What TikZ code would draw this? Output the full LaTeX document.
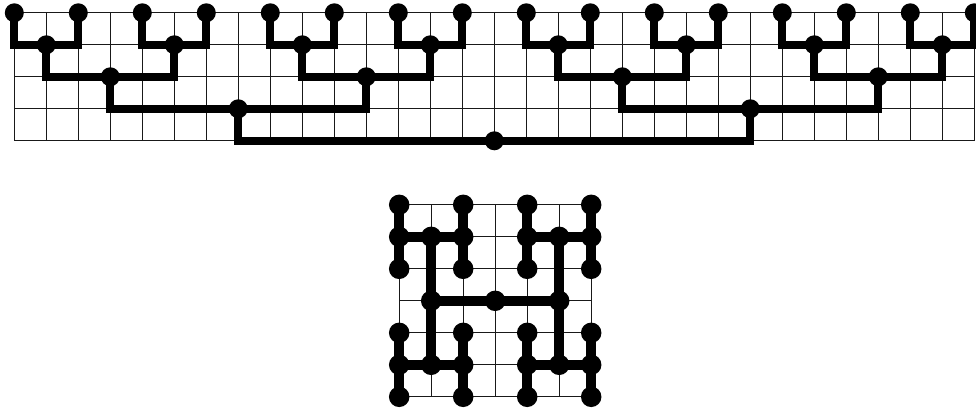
\documentclass[tikz,border=0pt]{standalone}
\begin{document}
\begin{tikzpicture}[x=1pt,y=-1pt,
  gridline/.style={draw=black!90,line width=1pt},
  tline/.style={draw=black,line width=8pt,line join=miter},
  hline/.style={draw=black,line width=9.5pt},
  tdot/.style={circle,fill=black,inner sep=0pt,minimum size=19pt},
  hdot/.style={circle,fill=black,inner sep=0pt,minimum size=20.5pt}]
\useasboundingbox (0,0) rectangle (976,408);
\def\tx{14.3}\def\ty{12.8}
\def\hx{399.2}\def\hy{204.8}
% top grid
\foreach \k in {0,...,30}{\draw[gridline] ({\tx+32*\k},\ty) -- ({\tx+32*\k},{\ty+128});}
\foreach \j in {0,...,4}{\draw[gridline] (\tx,{\ty+32*\j}) -- ({\tx+960},{\ty+32*\j});}
% bottom grid
\foreach \k in {0,...,6}{\draw[gridline] ({\hx+32*\k},\hy) -- ({\hx+32*\k},{\hy+192});}
\foreach \j in {0,...,6}{\draw[gridline] (\hx,{\hy+32*\j}) -- ({\hx+192},{\hy+32*\j});}
% top tree nodes
\foreach \L/\n in {0/16,1/8,2/4,3/2,4/1}{
  \pgfmathtruncatemacro{\last}{\n-1}
  \foreach \i in {0,...,\last}{
    \pgfmathtruncatemacro{\col}{2^(\L+1)*\i+2^\L-1}
    \node[tdot] (t-\L-\i) at ({\tx+\col*32},{\ty+\L*32}) {};
  }
}
% top tree edges
\foreach \L in {1,...,4}{
  \pgfmathtruncatemacro{\n}{16/2^\L-1}
  \pgfmathtruncatemacro{\P}{\L-1}
  \foreach \i in {0,...,\n}{
    \pgfmathtruncatemacro{\a}{2*\i}
    \pgfmathtruncatemacro{\b}{2*\i+1}
    \draw[tline] (t-\P-\a.center) |- (t-\L-\i.center) -| (t-\P-\b.center);
  }
}
% H-tree nodes
\node[hdot] (h) at ({\hx+96},{\hy+96}) {};
\node[hdot] (hL) at ({\hx+32},{\hy+96}) {};
\node[hdot] (hR) at ({\hx+160},{\hy+96}) {};
\foreach \s/\sx in {L/1,R/5}{
  \foreach \v/\vy in {t/1,b/5}{
    \node[hdot] (h\s-\v) at ({\hx+32*\sx},{\hy+32*\vy}) {};
    \foreach \e/\ex in {l/-1,r/1}{
      \node[hdot] (h\s-\v-\e) at ({\hx+32*(\sx+\ex)},{\hy+32*\vy}) {};
      \foreach \w/\wy in {t/-1,b/1}{
        \node[hdot] (h\s-\v-\e-\w) at ({\hx+32*(\sx+\ex)},{\hy+32*(\vy+\wy)}) {};
      }
    }
  }
}
% H-tree edges
\draw[hline] (hL.center) -- (hR.center);
\foreach \s in {L,R}{
  \draw[hline] (h\s-t.center) -- (h\s-b.center);
  \foreach \v in {t,b}{
    \draw[hline] (h\s-\v-l.center) -- (h\s-\v-r.center);
    \foreach \e in {l,r}{
      \draw[hline] (h\s-\v-\e-t.center) -- (h\s-\v-\e-b.center);
    }
  }
}
\end{tikzpicture}
\end{document}
